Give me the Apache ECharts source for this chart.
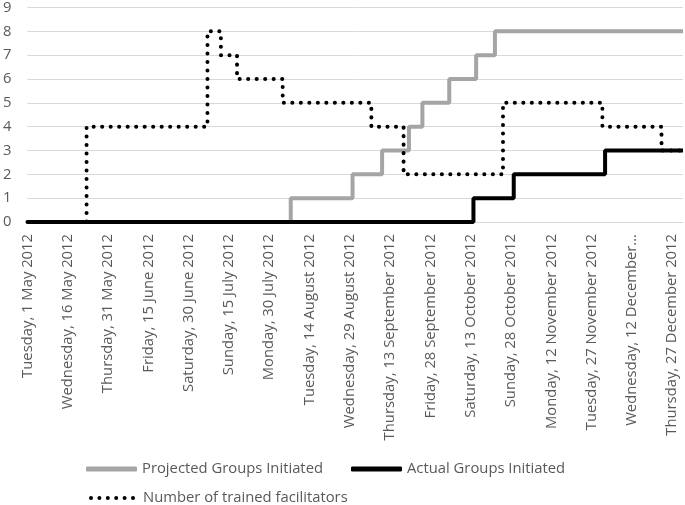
<!DOCTYPE html>
<html>
<head>
<meta charset="utf-8">
<script src="https://cdn.jsdelivr.net/npm/echarts@6/dist/echarts.min.js"></script>
<style>
html,body{margin:0;padding:0;background:#fff;}
#chart{width:685px;height:505px;}
</style>
</head>
<body>
<div id="chart"></div>
<script>
// ---- Data (dates where each series changes value, and the new value) ----
var startDate = '2012-05-01';
var endDate = '2012-12-31';

var projectedDates  = ['2012-05-01','2012-08-07','2012-08-30','2012-09-10','2012-09-20','2012-09-25','2012-10-05','2012-10-15','2012-10-22'];
var projectedValues = [0,1,2,3,4,5,6,7,8];

var actualDates  = ['2012-05-01','2012-10-14','2012-10-29','2012-12-02'];
var actualValues = [0,1,2,3];

var facilitatorDates  = ['2012-05-01','2012-05-23','2012-07-07','2012-07-12','2012-07-18','2012-08-04','2012-09-06','2012-09-18','2012-10-25','2012-12-01','2012-12-23'];
var facilitatorValues = [0,4,8,7,6,5,4,2,5,4,3];

var xTickLabels = [
  'Tuesday, 1 May 2012','Wednesday, 16 May 2012','Thursday, 31 May 2012','Friday, 15 June 2012',
  'Saturday, 30 June 2012','Sunday, 15 July 2012','Monday, 30 July 2012','Tuesday, 14 August 2012',
  'Wednesday, 29 August 2012','Thursday, 13 September 2012','Friday, 28 September 2012','Saturday, 13 October 2012',
  'Sunday, 28 October 2012','Monday, 12 November 2012','Tuesday, 27 November 2012','Wednesday, 12 December...',
  'Thursday, 27 December 2012'
];
var seriesNames = ['Projected Groups Initiated','Actual Groups Initiated','Number of trained facilitators'];

// ---- helpers ----
function dayIndex(s){
  var p = s.split('-'), q = startDate.split('-');
  return Math.round((Date.UTC(+p[0],+p[1]-1,+p[2]) - Date.UTC(+q[0],+q[1]-1,+q[2]))/86400000);
}
var lastDay = dayIndex(endDate);
function toPoints(dates, values){
  var pts = dates.map(function(d,i){ return [dayIndex(d), values[i]]; });
  pts.push([lastDay, values[values.length-1]]);
  return pts;
}
// legend icon: six round dots (46 x 4 box)
var dotPath = 'path://';
[2, 10.4, 18.8, 27.2, 35.6, 44].forEach(function(cx){
  dotPath += 'M' + (cx-2) + ' 2a2 2 0 1 0 4 0a2 2 0 1 0 -4 0Z';
});

var font = 'Open Sans';
var fs = 14.8;
var textColor = '#595959';

var chart = echarts.init(document.getElementById('chart'));
chart.setOption({
  animation: false,
  grid: {left: 24, right: 2, top: 5, bottom: 283},
  xAxis: {
    type: 'value', min: 0, max: lastDay, interval: 15,
    splitLine: {show: false},
    axisLine: {show: true, lineStyle: {color: '#d9d9d9', width: 1}},
    axisTick: {show: false},
    axisLabel: {
      rotate: 90, margin: 12, color: textColor, fontFamily: font, fontSize: fs,
      showMaxLabel: false,
      formatter: function(v){ var i = Math.round(v/15); return (v % 15 === 0 && xTickLabels[i]) ? xTickLabels[i] : ''; }
    }
  },
  yAxis: {
    type: 'value', min: 0, max: 9, interval: 1,
    axisLine: {show: false}, axisTick: {show: false},
    splitLine: {lineStyle: {color: '#d9d9d9', width: 1}},
    axisLabel: {color: textColor, fontFamily: font, fontSize: fs, margin: 16}
  },
  legend: [
    {
      data: [{name: seriesNames[0], icon: 'roundRect'}, {name: seriesNames[1], icon: 'roundRect'}],
      left: 86, top: 460, padding: 0, itemWidth: 51, itemHeight: 5, itemGap: 28,
      textStyle: {color: textColor, fontFamily: font, fontSize: fs, lineHeight: 18}
    },
    {
      data: [{name: seriesNames[2], icon: dotPath}],
      left: 89, top: 489, padding: 0, itemWidth: 46, itemHeight: 4,
      textStyle: {color: textColor, fontFamily: font, fontSize: fs, lineHeight: 18, padding: [0,0,0,3]}
    }
  ],
  series: [
    {
      name: seriesNames[0], type: 'line', step: 'end', showSymbol: false, symbol: 'none',
      data: toPoints(projectedDates, projectedValues),
      lineStyle: {color: '#a5a5a5', width: 4}, itemStyle: {color: '#a5a5a5'}, z: 2
    },
    {
      name: seriesNames[1], type: 'line', step: 'end', showSymbol: false, symbol: 'none',
      data: toPoints(actualDates, actualValues),
      lineStyle: {color: '#000000', width: 4}, itemStyle: {color: '#000000'}, z: 3
    },
    {
      name: seriesNames[2], type: 'line', step: 'end', showSymbol: false, symbol: 'none',
      data: toPoints(facilitatorDates, facilitatorValues),
      lineStyle: {color: '#000000', width: 4, type: [0.1, 8.4], cap: 'round'}, itemStyle: {color: '#000000'}, z: 4
    }
  ]
});
</script>
</body>
</html>
